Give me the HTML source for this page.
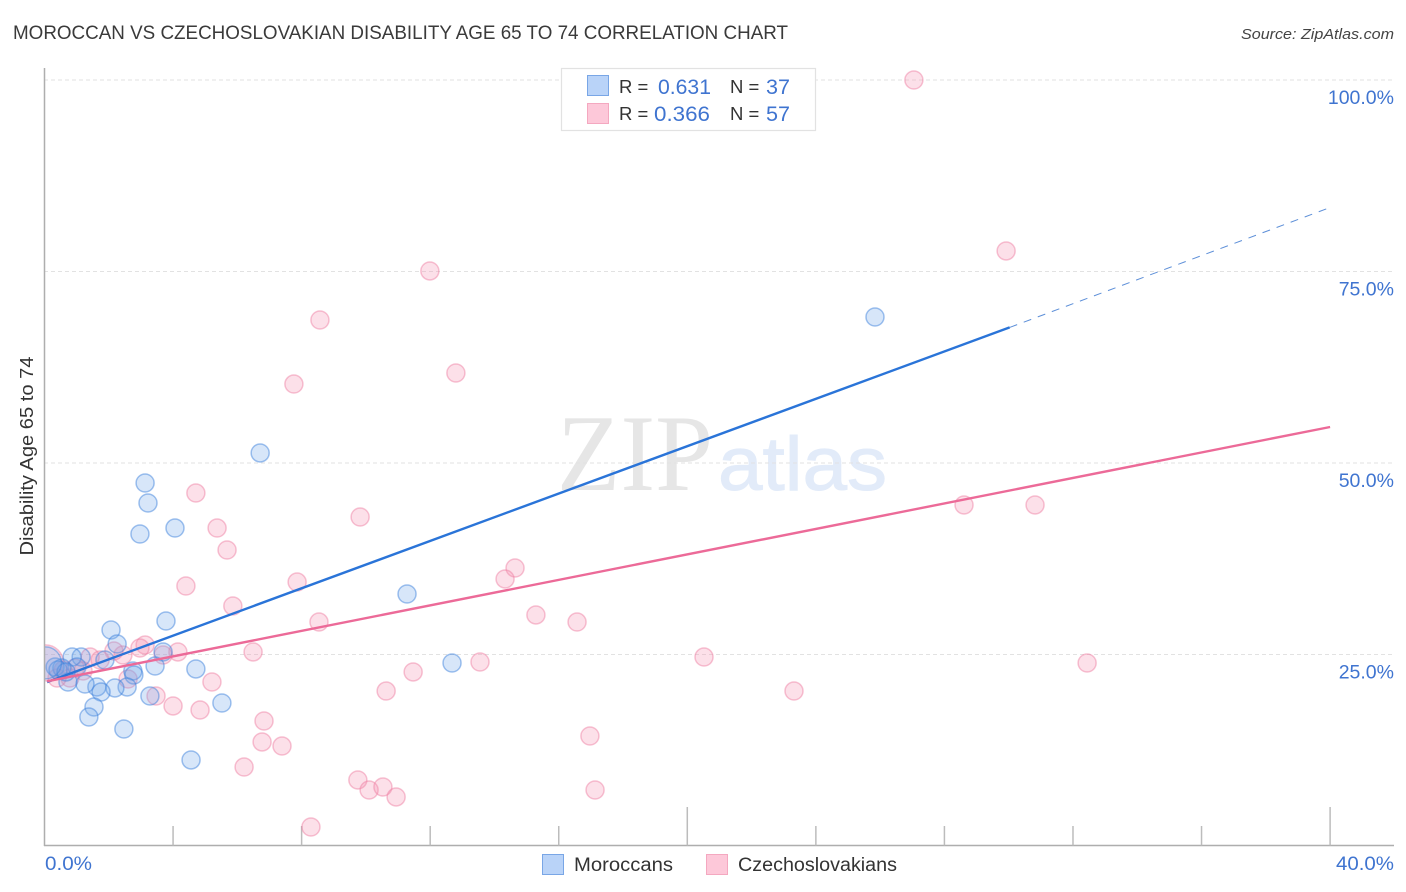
<!DOCTYPE html>
<html lang="en">
<head>
<meta charset="utf-8">
<title>Moroccan vs Czechoslovakian Disability Age 65 to 74 Correlation Chart</title>
<style>
html,body{margin:0;padding:0;background:#fff}
svg{display:block}
text{font-family:"Liberation Sans",sans-serif}
</style>
</head>
<body>
<svg id="chart" xmlns="http://www.w3.org/2000/svg" width="1406" height="892" viewBox="0 0 1406 892">
  <rect x="0" y="0" width="1406" height="892" fill="#ffffff"/>
  <text x="13" y="39" font-size="19" fill="#3a3a3a" textLength="775" lengthAdjust="spacingAndGlyphs">MOROCCAN VS CZECHOSLOVAKIAN DISABILITY AGE 65 TO 74 CORRELATION CHART</text>
  <text x="1394" y="39" font-size="15" font-style="italic" fill="#444" text-anchor="end" textLength="153" lengthAdjust="spacingAndGlyphs">Source: ZipAtlas.com</text>
  <g>
    <text x="557" y="490" font-size="109" fill="#e6e6e6" textLength="156" lengthAdjust="spacingAndGlyphs" style="font-family:'Liberation Serif',serif">ZIP</text>
    <text x="718" y="490" font-size="76" fill="#e2ebf9" stroke="#e2ebf9" stroke-width="1" textLength="169" lengthAdjust="spacingAndGlyphs">atlas</text>
  </g>
  <g id="grid"></g>
  <g id="axes"></g>
  <g>
    <g id="points-pink"></g>
    <g id="points-blue"></g>
  </g>
  <rect x="0" y="600" width="44" height="120" fill="#ffffff"/>
  <g id="y-axis"></g>
  <g id="trends"></g>
  <g id="y-labels"></g>
  <text transform="translate(33,456) rotate(-90)" font-size="18" fill="#333" text-anchor="middle" textLength="199" lengthAdjust="spacingAndGlyphs">Disability Age 65 to 74</text>
  <text x="45" y="870" font-size="19.5" fill="#3f74d0" textLength="47" lengthAdjust="spacingAndGlyphs">0.0%</text>
  <text x="1394" y="870" font-size="19.5" fill="#3f74d0" text-anchor="end" textLength="58" lengthAdjust="spacingAndGlyphs">40.0%</text>

  <g>
    <rect x="561.5" y="68.5" width="254" height="62" fill="#fff" stroke="#e2e2e2" stroke-width="1.2"/>
    <rect x="587.5" y="75.5" width="21" height="20" fill="#b9d3f8" stroke="#79a6e6"/>
    <rect x="587.5" y="103.5" width="21" height="20" fill="#fdc8d9" stroke="#f4a8c0"/>
    <text x="619" y="93" font-size="18.5" fill="#333">R =</text>
    <text x="658" y="94" font-size="21" fill="#3f74d0" textLength="53" lengthAdjust="spacingAndGlyphs">0.631</text>
    <text x="730" y="93" font-size="18.5" fill="#333">N =</text>
    <text x="766" y="94" font-size="21" fill="#3f74d0" textLength="24" lengthAdjust="spacingAndGlyphs">37</text>
    <text x="619" y="120" font-size="18.5" fill="#333">R =</text>
    <text x="654" y="121" font-size="21" fill="#3f74d0" textLength="56" lengthAdjust="spacingAndGlyphs">0.366</text>
    <text x="730" y="120" font-size="18.5" fill="#333">N =</text>
    <text x="766" y="121" font-size="21" fill="#3f74d0" textLength="24" lengthAdjust="spacingAndGlyphs">57</text>
  </g>

  <g>
    <rect x="542.5" y="854.5" width="21" height="20" fill="#b9d3f8" stroke="#79a6e6"/>
    <text x="574" y="871" font-size="19" fill="#333" textLength="99" lengthAdjust="spacingAndGlyphs">Moroccans</text>
    <rect x="706.5" y="854.5" width="21" height="20" fill="#fdc8d9" stroke="#f4a8c0"/>
    <text x="738" y="871" font-size="19" fill="#333" textLength="159" lengthAdjust="spacingAndGlyphs">Czechoslovakians</text>
  </g>
</svg>
<script>
const xTickValues = [0, 4, 8, 12, 16, 20, 24, 28, 32, 36, 40];
const xMajorTicks = [20, 40];
const yTickValues = [25, 50, 75, 100];
const yTickLabels = ["25.0%", "50.0%", "75.0%", "100.0%"];

const moroccanX = [25.84, 6.71, 3.13, 3.22, 4.06, 2.97, 11.28, 3.78, 2.07, 2.26, 3.69, 12.68, 4.71, 3.44, 5.52, 3.28, 2.47, 4.56, 2.75, 2.78, 2.57, 2.19, 1.63, 1.76, 1.26, 1.54, 1.38, 1.88, 1.14, 0.86, 1.01, 0.73, 0.54, 0.33, 0.42, 0.67, 0.03];
const moroccanY = [69.06, 51.31, 47.39, 44.78, 41.51, 40.73, 32.90, 29.37, 28.20, 26.37, 25.33, 23.89, 23.11, 23.50, 18.67, 19.58, 15.27, 11.23, 22.85, 22.32, 20.76, 20.63, 20.76, 20.10, 21.15, 18.15, 16.84, 24.28, 24.67, 24.67, 23.37, 21.41, 23.24, 23.37, 22.98, 22.72, 23.90];

const czechX = [27.05, 29.92, 11.99, 8.57, 12.80, 7.76, 4.71, 9.82, 28.61, 30.82, 5.37, 5.68, 4.40, 7.86, 14.64, 14.33, 5.86, 8.54, 15.29, 16.57, 3.13, 2.97, 4.15, 3.69, 6.49, 2.44, 2.16, 1.73, 1.42, 20.52, 13.55, 32.44, 11.47, 5.21, 10.63, 23.32, 3.47, 4.00, 4.84, 6.83, 6.77, 7.39, 16.97, 6.21, 9.75, 10.10, 10.53, 10.94, 17.13, 8.29, 2.60, 1.20, 0.79, 0.39, 0.58, 0.03, 0.95];
const czechY = [100.0, 77.68, 75.07, 68.67, 61.75, 60.31, 46.08, 42.95, 44.52, 44.52, 41.51, 38.64, 33.94, 34.46, 36.29, 34.86, 31.33, 29.24, 30.16, 29.24, 26.24, 25.85, 25.33, 24.93, 25.33, 24.93, 25.46, 24.28, 24.67, 24.67, 24.02, 23.89, 22.72, 21.41, 20.23, 20.23, 19.58, 18.28, 17.75, 16.32, 13.58, 13.05, 14.36, 10.31, 8.62, 7.31, 7.70, 6.40, 7.31, 2.48, 21.80, 22.85, 21.93, 21.93, 22.98, 23.90, 23.24];

const moroccanTrendX = [0.08, 30.03];
const moroccanTrendY = [21.4, 67.7];
const moroccanForecastX = [30.03, 39.9];
const moroccanForecastY = [67.7, 83.2];
const czechTrendX = [0.08, 40];
const czechTrendY = [21.5, 54.7];

const xScale = v => 44.5 + v * 32.14;
const yScale = v => 846 - v * 7.66;

const NS = "http://www.w3.org/2000/svg";
function make(tag, attrs, parent) {
  const el = document.createElementNS(NS, tag);
  for (const k in attrs) el.setAttribute(k, attrs[k]);
  parent.appendChild(el);
  return el;
}

const grid = document.getElementById("grid");
yTickValues.forEach(v => {
  const line = make("line", {x1: 44, x2: 1394, y1: yScale(v), y2: yScale(v), stroke: "#e2e2e2", "stroke-width": 1, "stroke-dasharray": "4 3"}, grid);
  
  
});

const axes = document.getElementById("axes");
const yAxis = document.getElementById("y-axis");
const yAxisLine = make("line", {x1: 44.5, x2: 44.5, y1: 68, y2: 846, stroke: "#aeaeae", "stroke-width": 1.5}, yAxis);


const xAxisLine = make("line", {x1: 44, x2: 1394, y1: 845.5, y2: 845.5, stroke: "#aeaeae", "stroke-width": 1.5}, axes);


xTickValues.slice(1).forEach(v => {
  const top = xMajorTicks.includes(v) ? 807 : 826;
  const tick = make("line", {x1: xScale(v), x2: xScale(v), y1: top, y2: 845.5, stroke: "#bcbcbc", "stroke-width": 1.5}, axes);
  
  
});

const yLabels = document.getElementById("y-labels");
yTickValues.forEach((v, i) => {
  const label = make("text", {x: 1394, y: yScale(v) + 24, "font-size": 19.5, fill: "#3f74d0", "text-anchor": "end"}, yLabels);
  
  
  label.textContent = yTickLabels[i];
});

function drawPoints(groupId, xs, ys, fill, stroke, name, bigRadius) {
  const group = document.getElementById(groupId);
  xs.forEach((x, i) => {
    const r = x < 0.1 ? bigRadius : 9;
    const dot = make("circle", {cx: xScale(x), cy: yScale(ys[i]), r: r, fill: fill, "fill-opacity": 0.28, stroke: stroke, "stroke-opacity": 0.48, "stroke-width": 1.5}, group);
    
    
  });
}
drawPoints("points-pink", czechX, czechY, "#f48fb1", "#ee7fa3", "czechoslovakians-point", 18);
drawPoints("points-blue", moroccanX, moroccanY, "#6ea4ea", "#3b80dc", "moroccans-point", 16);

const trends = document.getElementById("trends");
const blueTrend = make("line", {x1: xScale(moroccanTrendX[0]), y1: yScale(moroccanTrendY[0]), x2: xScale(moroccanTrendX[1]), y2: yScale(moroccanTrendY[1]), stroke: "#2a74d8", "stroke-width": 2.4}, trends);


const blueForecast = make("line", {x1: xScale(moroccanForecastX[0]), y1: yScale(moroccanForecastY[0]), x2: xScale(moroccanForecastX[1]), y2: yScale(moroccanForecastY[1]), stroke: "#5d8fd8", "stroke-width": 1, "stroke-dasharray": "8 7"}, trends);


const pinkTrend = make("line", {x1: xScale(czechTrendX[0]), y1: yScale(czechTrendY[0]), x2: xScale(czechTrendX[1]), y2: yScale(czechTrendY[1]), stroke: "#ec6a98", "stroke-width": 2.4}, trends);


</script>
</body>
</html>
